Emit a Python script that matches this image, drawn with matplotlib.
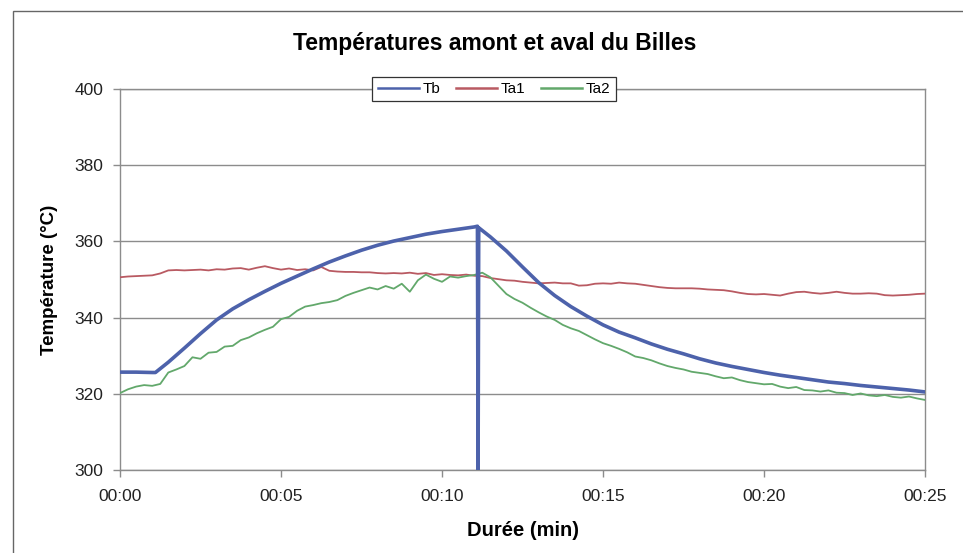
import numpy as np
import matplotlib.pyplot as plt
from matplotlib.patches import Rectangle

# Durée en minutes (pas de 15 s) pour les thermocouples amont / aval
time_min = np.arange(0, 25.01, 0.25)

ta1 = [350.6, 350.8, 350.9, 351.0,
       351.1, 351.6, 352.4, 352.5,
       352.4, 352.5, 352.6, 352.4,
       352.7, 352.6, 352.9, 353.0,
       352.6, 353.1, 353.5, 353.0,
       352.6, 352.9, 352.5, 352.7,
       352.4, 353.3, 352.3, 352.1,
       352.0, 352.0, 351.9, 351.9,
       351.7, 351.6, 351.7, 351.6,
       351.8, 351.5, 351.7, 351.2,
       351.4, 351.2, 351.1, 351.3,
       351.0, 350.9, 350.4, 350.1,
       349.8, 349.7, 349.4, 349.2,
       349.0, 349.1, 349.2, 349.0,
       349.0, 348.4, 348.5, 348.9,
       349.0, 348.9, 349.2, 349.0,
       348.9, 348.6, 348.3, 348.0,
       347.8, 347.7, 347.7, 347.7,
       347.6, 347.4, 347.3, 347.2,
       346.9, 346.5, 346.2, 346.1,
       346.2, 346.0, 345.8, 346.3,
       346.7, 346.8, 346.5, 346.3,
       346.5, 346.8, 346.5, 346.3,
       346.3, 346.4, 346.3, 345.9,
       345.8, 345.9, 346.0, 346.2,
       346.3]

ta2 = [320.2, 321.2, 321.9, 322.3,
       322.1, 322.6, 325.6, 326.4,
       327.3, 329.6, 329.2, 330.8,
       331.0, 332.4, 332.6, 334.1,
       334.8, 335.9, 336.8, 337.6,
       339.6, 340.2, 341.8, 342.9,
       343.3, 343.8, 344.1, 344.6,
       345.7, 346.5, 347.2, 347.9,
       347.4, 348.3, 347.6, 348.9,
       346.8, 349.8, 351.3, 350.2,
       349.4, 350.8, 350.5, 350.9,
       351.2, 351.8, 350.6, 348.4,
       346.2, 344.9, 343.9, 342.6,
       341.4, 340.3, 339.4, 338.1,
       337.2, 336.5, 335.4, 334.3,
       333.3, 332.6, 331.8, 330.9,
       329.8, 329.4, 328.8, 328.0,
       327.3, 326.8, 326.4, 325.8,
       325.5, 325.2, 324.6, 324.1,
       324.3, 323.6, 323.1, 322.8,
       322.5, 322.6, 321.9, 321.5,
       321.8, 321.0, 320.9, 320.6,
       320.9, 320.3, 320.2, 319.7,
       320.1, 319.6, 319.4, 319.7,
       319.2, 319.0, 319.3, 318.8,
       318.4]

# Température des billes : chute ponctuelle vers 11:07 (capteur débranché)
tb_time = [0, 0.5, 1.0, 1.1, 1.5, 2.0, 2.5, 3.0, 3.5, 4.0, 4.5, 5.0, 5.5,
           6.0, 6.5, 7.0, 7.5, 8.0, 8.5, 9.0, 9.5, 10.0, 10.5, 11.0, 11.1,
           11.12, 11.14, 11.5, 12.0, 12.5, 13.0, 13.5, 14.0, 14.5, 15.0,
           15.5, 16.0, 16.5, 17.0, 17.5, 18.0, 18.5, 19.0, 19.5, 20.0,
           20.5, 21.0, 21.5, 22.0, 22.5, 23.0, 23.5, 24.0, 24.5, 25.0]
tb = [325.7, 325.7, 325.6, 325.6, 328.3, 332.0, 335.8, 339.4, 342.3, 344.7,
      346.9, 349.0, 350.9, 352.8, 354.6, 356.2, 357.7, 359.0, 360.1, 361.0,
      361.9, 362.6, 363.2, 363.8, 364.0,
      300.0, 363.6, 361.2, 357.5, 353.3, 349.2, 345.8, 342.9, 340.4, 338.1,
      336.2, 334.7, 333.1, 331.7, 330.5, 329.2, 328.1, 327.2, 326.4, 325.6,
      324.9, 324.3, 323.7, 323.1, 322.7, 322.2, 321.8, 321.4, 321.0, 320.5]

x_ticks = [0, 5, 10, 15, 20, 25]
x_labels = ["00:00", "00:05", "00:10", "00:15", "00:20", "00:25"]
y_ticks = [300, 320, 340, 360, 380, 400]

plt.rcParams['font.family'] = ['Liberation Sans', 'DejaVu Sans']

fig = plt.figure(figsize=(9.63, 5.53), dpi=100)
ax = fig.add_axes([0.1246, 0.150, 0.836, 0.689])

# cadre extérieur du graphique
fig.patches.append(Rectangle((13 / 963, -0.05), 1.0, 1.05 - 11 / 553,
                             transform=fig.transFigure, fill=False,
                             edgecolor='#666666', linewidth=1.0))

ax.plot(tb_time, tb, color='#4d62ab', linewidth=2.6, label='Tb', zorder=4)
ax.plot(time_min, ta1, color='#b95a62', linewidth=1.3, label='Ta1', zorder=3)
ax.plot(time_min, ta2, color='#62a86b', linewidth=1.3, label='Ta2', zorder=3)

ax.set_xlim(0, 25)
ax.set_ylim(300, 400)
ax.set_xticks(x_ticks)
ax.set_xticklabels(x_labels)
ax.set_yticks(y_ticks)
ax.yaxis.grid(True, color='#8c8c8c', linewidth=1.0)
ax.set_axisbelow(True)

for side in ['left', 'bottom', 'right', 'top']:
    ax.spines[side].set_color('#8c8c8c')
    ax.spines[side].set_linewidth(1.0)

ax.tick_params(axis='both', labelsize=12.5, colors='#8c8c8c',
               labelcolor='#222222', length=5, width=1.0)
ax.tick_params(axis='y', pad=7)
ax.tick_params(axis='x', pad=9)

ax.set_title('Températures amont et aval du Billes', fontsize=16.5,
             fontweight='bold', x=0.466, pad=28)
ax.set_ylabel('Température (°C)', fontsize=13.5, fontweight='bold',
              labelpad=12)
ax.set_xlabel('Durée (min)', fontsize=14.5, fontweight='bold', labelpad=12)

leg = ax.legend(loc='center', bbox_to_anchor=(0.4646, 1.0), ncol=3,
                fontsize=11, handlelength=2.7, handletextpad=0.25,
                columnspacing=1.0, borderpad=0.35, fancybox=False,
                framealpha=1.0, edgecolor='#333333')
leg.get_frame().set_linewidth(0.9)
for line in leg.get_lines():
    line.set_linewidth(1.8)

plt.savefig('out.png', dpi=100)
